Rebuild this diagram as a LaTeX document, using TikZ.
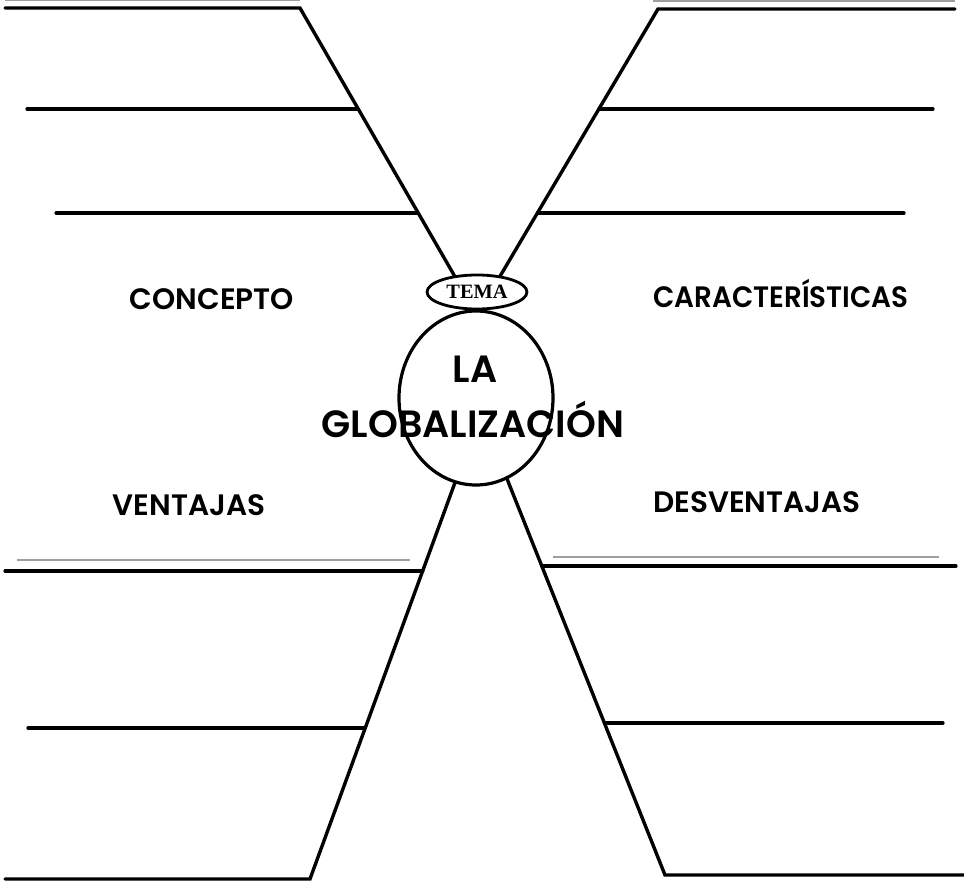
\documentclass[tikz,border=0pt]{standalone}
\usepackage{fontspec}
\setmainfont{Poppins}
\newfontfamily\labelfont{Poppins SemiBold}
\newfontfamily\temafont{Liberation Serif}
\usetikzlibrary{shapes,calc}

\begin{document}
\begin{tikzpicture}[x=0.25mm,y=-0.25mm,
  trunk/.style={line width=0.85mm,line cap=round,line join=miter},
  branch/.style={line width=0.8mm,line cap=round},
  faint/.style={line width=0.4mm,gray!75},
  label/.style={font=\labelfont\fontsize{21}{24}\selectfont,inner sep=0pt,anchor=base},
  biglabel/.style={font=\labelfont\fontsize{27}{30}\selectfont,inner sep=0pt,anchor=base}]
\useasboundingbox (0,0) rectangle (964,885);

\node[draw,ellipse,line width=0.7mm,minimum width=25mm,minimum height=8.5mm,inner sep=0pt] (tema) at (477,292) {\temafont\bfseries\fontsize{14.5}{14.5}\selectfont TEMA};
\node[draw,ellipse,line width=0.8mm,minimum width=38.5mm,minimum height=43.5mm,inner sep=0pt] (circ) at (476,398) {};
\node[biglabel] (la) at (475,383) {LA};
\node[biglabel] (glob) at (473,438) {GLOBALIZACIÓN};

\node[label] (concepto) at (212,310) {CONCEPTO};
\node[label] (ventajas) at (189,515) {VENTAJAS};
\node[label,xscale=0.94] (caract) at (781,308) {CARACTERÍSTICAS};
\node[label] (desvent) at (757,513) {DESVENTAJAS};

% elbows and free ends
\coordinate (kTL) at (300,8);
\coordinate (kTR) at (658,9);
\coordinate (kBL) at (310,879);
\coordinate (kBR) at (665,875);
\coordinate (eTL) at (5,8);
\coordinate (eTR) at (955,9);
\coordinate (eBL) at (5,879);
\coordinate (eBR) at (964,875);

\draw[trunk] (eTL) -- (kTL) -- (tema.144);
\draw[trunk] (eTR) -- (kTR) -- (tema.35);
\draw[trunk] (eBL) -- (kBL) -- (circ.256);
\draw[trunk] (eBR) -- (kBR) -- (circ.291);

% branch lines
\coordinate (j1) at ($(tema.144)!0.625!(kTL)$);
\coordinate (j2) at ($(tema.144)!0.236!(kTL)$);
\coordinate (j3) at ($(tema.35)!0.625!(kTR)$);
\coordinate (j4) at ($(tema.35)!0.236!(kTR)$);
\coordinate (j5) at ($(circ.256)!0.22!(kBL)$);
\coordinate (j6) at ($(circ.256)!0.618!(kBL)$);
\coordinate (j7) at ($(circ.291)!0.22!(kBR)$);
\coordinate (j8) at ($(circ.291)!0.616!(kBR)$);

\coordinate (b1) at (27,109);
\coordinate (b2) at (56,213);
\coordinate (b3) at (933,109);
\coordinate (b4) at (904,213);
\coordinate (b5) at (5,571);
\coordinate (b6) at (28,728);
\coordinate (b7) at (956,566);
\coordinate (b8) at (943,723);

\draw[branch] (b1) -- (b1 -| j1);
\draw[branch] (b2) -- (b2 -| j2);
\draw[branch] (b3) -- (b3 -| j3);
\draw[branch] (b4) -- (b4 -| j4);
\draw[branch] (b5) -- (b5 -| j5);
\draw[branch] (b6) -- (b6 -| j6);
\draw[branch] (b7) -- (b7 -| j7);
\draw[branch] (b8) -- (b8 -| j8);

% thin grey rules
\draw[faint] (5,0.5) -- (300,0.5);
\draw[faint] (653,1) -- (955,1);
\draw[faint] (17,560) -- (410,560);
\draw[faint] (553,557) -- (939,557);
\end{tikzpicture}
\end{document}
